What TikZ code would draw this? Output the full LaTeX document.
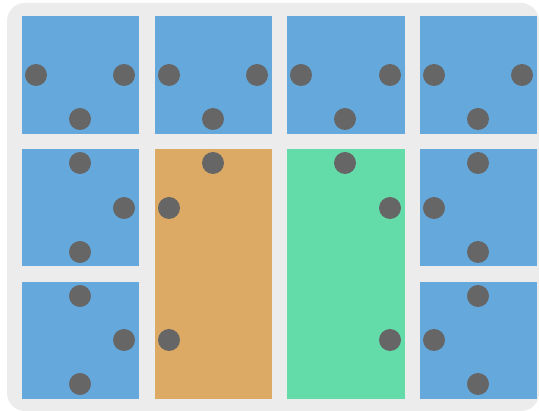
\documentclass[tikz,border=0pt]{standalone}
\definecolor{bgray}{HTML}{ECECEC}
\definecolor{cblue}{HTML}{64A8DC}
\definecolor{corange}{HTML}{DCAA64}
\definecolor{cgreen}{HTML}{64DCAA}
\definecolor{dotc}{HTML}{666666}
\begin{document}
\begin{tikzpicture}[x=1pt,y=-1pt,
  dotnode/.style={circle,fill=dotc,draw=none,minimum size=22pt,inner sep=0pt}]
\useasboundingbox (0,0) rectangle (539,411);
\fill[white] (0,0) rectangle (539,411);
\fill[bgray,rounded corners=18pt] (7,3) rectangle (539,411);
% row 1
\fill[cblue] (22,16) rectangle (139,134);
\fill[cblue] (155,16) rectangle (272,134);
\fill[cblue] (287,16) rectangle (405,134);
\fill[cblue] (420,16) rectangle (537,134);
% row 2
\fill[cblue] (22,149) rectangle (139,266);
\fill[cblue] (420,149) rectangle (537,266);
% row 3
\fill[cblue] (22,282) rectangle (139,399);
\fill[cblue] (420,282) rectangle (537,399);
% tall
\fill[corange] (155,149) rectangle (272,399);
\fill[cgreen] (287,149) rectangle (405,399);
% dots row 1
\node[dotnode] (a1) at (36,75) {};
\node[dotnode] (a2) at (124,75) {};
\node[dotnode] (a3) at (80,119) {};
\node[dotnode] (b1) at (169,75) {};
\node[dotnode] (b2) at (257,75) {};
\node[dotnode] (b3) at (213,119) {};
\node[dotnode] (c1) at (301,75) {};
\node[dotnode] (c2) at (390,75) {};
\node[dotnode] (c3) at (345,119) {};
\node[dotnode] (d1) at (434,75) {};
\node[dotnode] (d2) at (522,75) {};
\node[dotnode] (d3) at (478,119) {};
% row 2
\node[dotnode] (e1) at (80,163) {};
\node[dotnode] (e2) at (124,208) {};
\node[dotnode] (e3) at (80,252) {};
\node[dotnode] (f1) at (478,163) {};
\node[dotnode] (f2) at (434,208) {};
\node[dotnode] (f3) at (478,252) {};
% row 3
\node[dotnode] (g1) at (80,296) {};
\node[dotnode] (g2) at (124,340) {};
\node[dotnode] (g3) at (80,384) {};
\node[dotnode] (h1) at (478,296) {};
\node[dotnode] (h2) at (434,340) {};
\node[dotnode] (h3) at (478,384) {};
% orange
\node[dotnode] (o1) at (213,163) {};
\node[dotnode] (o2) at (169,208) {};
\node[dotnode] (o3) at (169,340) {};
% green
\node[dotnode] (n1) at (345,163) {};
\node[dotnode] (n2) at (390,208) {};
\node[dotnode] (n3) at (390,340) {};
\end{tikzpicture}
\end{document}
